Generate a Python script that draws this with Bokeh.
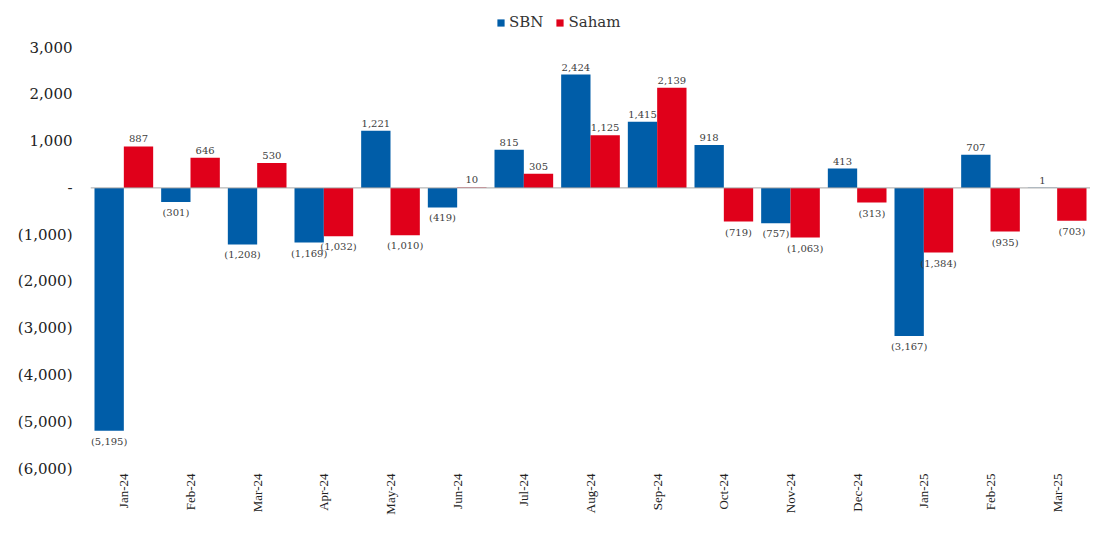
import math
from bokeh.plotting import figure
from bokeh.models import ColumnDataSource, FixedTicker, Legend, LegendItem, Span
from bokeh.transform import dodge
from bokeh.core.properties import value
from bokeh.embed import file_html
from bokeh.resources import INLINE

months = ["Jan-24", "Feb-24", "Mar-24", "Apr-24", "May-24", "Jun-24", "Jul-24", "Aug-24",
          "Sep-24", "Oct-24", "Nov-24", "Dec-24", "Jan-25", "Feb-25", "Mar-25"]
sbn = [-5195, -301, -1208, -1169, 1221, -419, 815, 2424, 1415, 918, -757, 413, -3167, 707, 1]
saham = [887, 646, 530, -1032, -1010, 10, 305, 1125, 2139, -719, -1063, -313, -1384, -935, -703]
y_ticks = [-6000, -5000, -4000, -3000, -2000, -1000, 0, 1000, 2000, 3000]

BLUE = "#005DA8"
RED = "#E0001A"
SERIF = "DejaVu Serif"


def fmt(v):
    if v == 0:
        return "-"
    s = f"{abs(v):,}"
    return f"({s})" if v < 0 else s


src = ColumnDataSource(dict(month=months, sbn=sbn, saham=saham))


def split(vals):
    pos = dict(month=[], v=[], t=[])
    neg = dict(month=[], v=[], t=[])
    for m, v in zip(months, vals):
        d = pos if v >= 0 else neg
        d["month"].append(m); d["v"].append(v); d["t"].append(fmt(v))
    return ColumnDataSource(pos), ColumnDataSource(neg)


# top of range leaves room for the legend inside the frame
p = figure(x_range=months, y_range=(-6000, 3900), width=1090, height=517,
           output_backend="svg", toolbar_location=None,
           min_border_left=90, min_border_right=0, min_border_top=5, min_border_bottom=40)
p.outline_line_color = None
p.xgrid.grid_line_color = None
p.ygrid.grid_line_color = None
p.background_fill_color = "white"
p.border_fill_color = "white"

r1 = p.vbar(x=dodge("month", -0.22, range=p.x_range), top="sbn", width=0.44, source=src,
            fill_color=BLUE, line_color=None)
r2 = p.vbar(x=dodge("month", 0.22, range=p.x_range), top="saham", width=0.44, source=src,
            fill_color=RED, line_color=None)

p.add_layout(Span(location=0, dimension="width", line_color="#A6A6A6", line_width=1))

for vals, off in ((sbn, -0.22), (saham, 0.22)):
    pos, neg = split(vals)
    p.text(x=dodge("month", off, range=p.x_range), y="v", text="t", source=pos,
           text_align="center", text_baseline="bottom", y_offset=-4,
           text_font=value(SERIF), text_font_size="10px", text_color="#404040")
    p.text(x=dodge("month", off, range=p.x_range), y="v", text="t", source=neg,
           text_align="center", text_baseline="top", y_offset=5,
           text_font=value(SERIF), text_font_size="10px", text_color="#404040")

p.yaxis.ticker = FixedTicker(ticks=y_ticks)
p.yaxis.major_label_overrides = {t: fmt(t) for t in y_ticks}
p.yaxis.axis_line_color = None
p.yaxis.major_tick_line_color = None
p.yaxis.minor_tick_line_color = None
p.yaxis.major_tick_out = 0
p.yaxis.major_tick_in = 0
p.yaxis.major_label_standoff = 18
p.yaxis.major_label_text_font = SERIF
p.yaxis.major_label_text_font_size = "15px"
p.yaxis.major_label_text_color = "#222222"

p.xaxis.axis_line_color = None
p.xaxis.major_tick_line_color = None
p.xaxis.major_tick_out = 0
p.xaxis.major_tick_in = 0
p.xaxis.major_label_orientation = math.pi / 2
p.xaxis.major_label_standoff = 5
p.xaxis.major_label_text_font = "Liberation Serif"
p.xaxis.major_label_text_font_size = "13px"
p.xaxis.major_label_text_color = "#222222"

legend = Legend(items=[LegendItem(label="SBN", renderers=[r1]), LegendItem(label="Saham", renderers=[r2])],
                orientation="horizontal", location=(406, 437), border_line_color=None,
                background_fill_alpha=0, glyph_width=9, glyph_height=9, spacing=12,
                label_text_font=SERIF, label_text_font_size="15px", label_text_color="#333333",
                padding=2, margin=0, label_standoff=4, label_height=15)
p.add_layout(legend, "center")

open("out.html", "w").write(file_html(p, INLINE))
